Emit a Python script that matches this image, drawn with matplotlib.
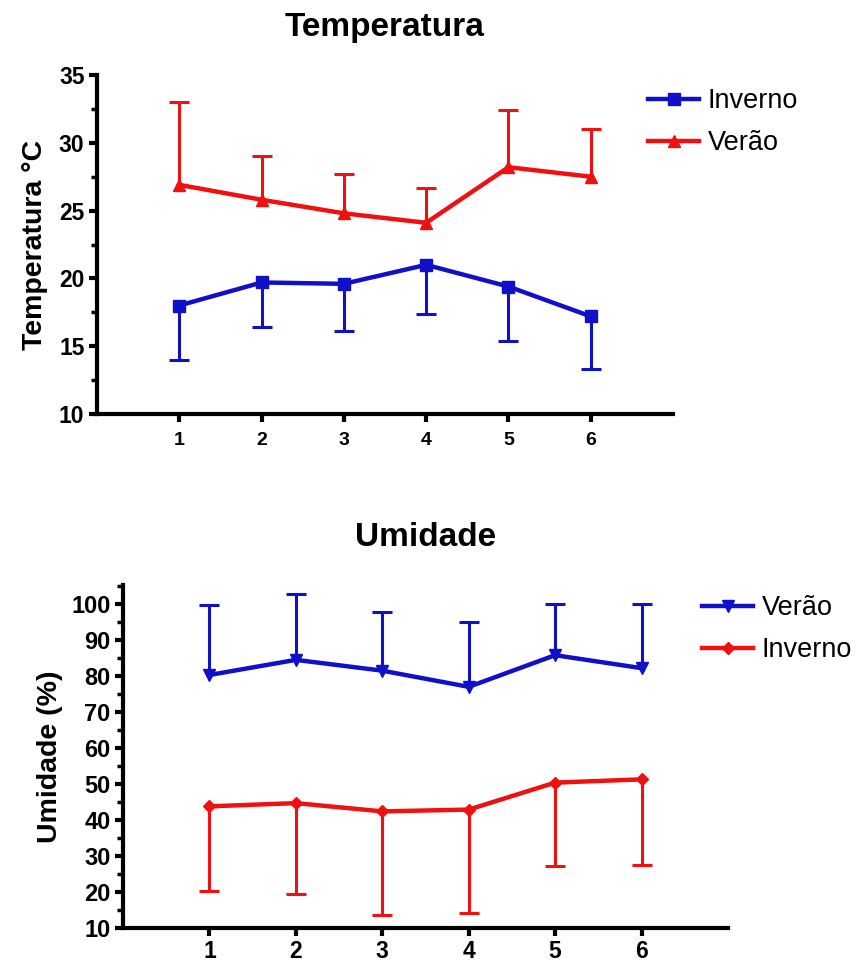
import numpy as np
import matplotlib
matplotlib.use("Agg")
import matplotlib.pyplot as plt
from matplotlib.ticker import MultipleLocator

plt.rcParams['font.family'] = ['Liberation Sans', 'DejaVu Sans']

# ---- data ----
points = [1, 2, 3, 4, 5, 6]

temp_inverno = [18.0, 19.7, 19.6, 21.0, 19.4, 17.2]
temp_inverno_sd = [4.0, 3.3, 3.5, 3.6, 4.0, 3.9]
temp_verao = [26.9, 25.8, 24.8, 24.1, 28.2, 27.5]
temp_verao_sd = [6.1, 3.2, 2.9, 2.6, 4.2, 3.5]

umid_verao = [80.3, 84.5, 81.5, 77.0, 85.8, 82.2]
umid_verao_sd = [19.5, 18.3, 16.3, 18.0, 14.2, 17.8]
umid_inverno = [43.8, 44.7, 42.4, 42.9, 50.4, 51.3]
umid_inverno_sd = [23.6, 25.3, 28.8, 28.7, 23.2, 23.7]

BLUE = '#1010C8'
RED = '#F01010'

fig = plt.figure(figsize=(8.62, 9.69), dpi=100)


def one_sided(ax, x, y, sd, direction, color, marker, ms, label):
    y = np.asarray(y)
    sd = np.asarray(sd)
    zeros = np.zeros_like(sd)
    yerr = [zeros, sd] if direction == 'up' else [sd, zeros]
    line, caps, bars = ax.errorbar(x, y, yerr=yerr, color=color, lw=3.2,
                                   marker=marker, ms=ms, capsize=7,
                                   capthick=2.2, elinewidth=2.2, label=label,
                                   zorder=3)
    for c in caps:
        if np.allclose(c.get_ydata(), y):
            c.set_visible(False)
    return line


def style(ax, ylim, major, minor, xsize, ysize, xpad):
    ax.set_xlim(0, 7)
    ax.set_ylim(*ylim)
    ax.set_xticks(points)
    ax.yaxis.set_major_locator(MultipleLocator(major))
    ax.yaxis.set_minor_locator(MultipleLocator(minor))
    for s in ['top', 'right']:
        ax.spines[s].set_visible(False)
    for s in ['left', 'bottom']:
        ax.spines[s].set_linewidth(3)
    ax.tick_params(axis='both', which='major', direction='out', length=6,
                   width=3, pad=3)
    ax.tick_params(axis='x', which='major', pad=xpad)
    ax.tick_params(axis='y', which='minor', direction='out', length=4,
                   width=2.5)
    ax.tick_params(axis='x', which='minor', bottom=False)
    for t in ax.get_xticklabels():
        t.set_fontweight('bold')
        t.set_fontsize(xsize)
    for t in ax.get_yticklabels():
        t.set_fontweight('bold')
        t.set_fontsize(ysize)


# ---- top chart ----
ax1 = fig.add_axes([97 / 862, 1 - 414 / 969, 576 / 862, 339 / 969])
l1 = one_sided(ax1, points, temp_inverno, temp_inverno_sd, 'down', BLUE, 's', 9, 'Inverno')
l2 = one_sided(ax1, points, temp_verao, temp_verao_sd, 'up', RED, '^', 9, 'Verão')
style(ax1, (10, 35), 5, 2.5, 14, 16.5, 7)
ax1.set_title('Temperatura', fontsize=24, fontweight='bold', pad=28)
ax1.set_ylabel('Temperatura °C', fontsize=20.5, fontweight='bold', labelpad=8)
leg1 = fig.legend(handles=[l1, l2], labels=['Inverno', 'Verão'],
                  loc='upper left', bbox_to_anchor=(648 / 862, 1 - 88 / 969),
                  frameon=False, fontsize=19.5, handlelength=1.9,
                  handletextpad=0.3, labelspacing=0.6, borderpad=0,
                  borderaxespad=0)

# ---- bottom chart ----
ax2 = fig.add_axes([123 / 862, 1 - 928 / 969, 605 / 862, 343 / 969])
l3 = one_sided(ax2, points, umid_verao, umid_verao_sd, 'up', BLUE, 'v', 9, 'Verão')
l4 = one_sided(ax2, points, umid_inverno, umid_inverno_sd, 'down', RED, 'D', 6, 'Inverno')
style(ax2, (10, 105.3), 10, 5, 16.5, 17, 3)
ax2.set_yticks(np.arange(10, 101, 10))
for t in ax2.get_yticklabels():
    t.set_fontweight('bold')
    t.set_fontsize(17)
ax2.set_title('Umidade', fontsize=24, fontweight='bold', pad=28)
ax2.set_ylabel('Umidade (%)', fontsize=20.5, fontweight='bold', labelpad=6)
leg2 = fig.legend(handles=[l3, l4], labels=['Verão', 'Inverno'],
                  loc='upper left', bbox_to_anchor=(702 / 862, 1 - 595 / 969),
                  frameon=False, fontsize=19.5, handlelength=1.9,
                  handletextpad=0.3, labelspacing=0.6, borderpad=0,
                  borderaxespad=0)

fig.savefig('out.png', dpi=100, facecolor='white')
